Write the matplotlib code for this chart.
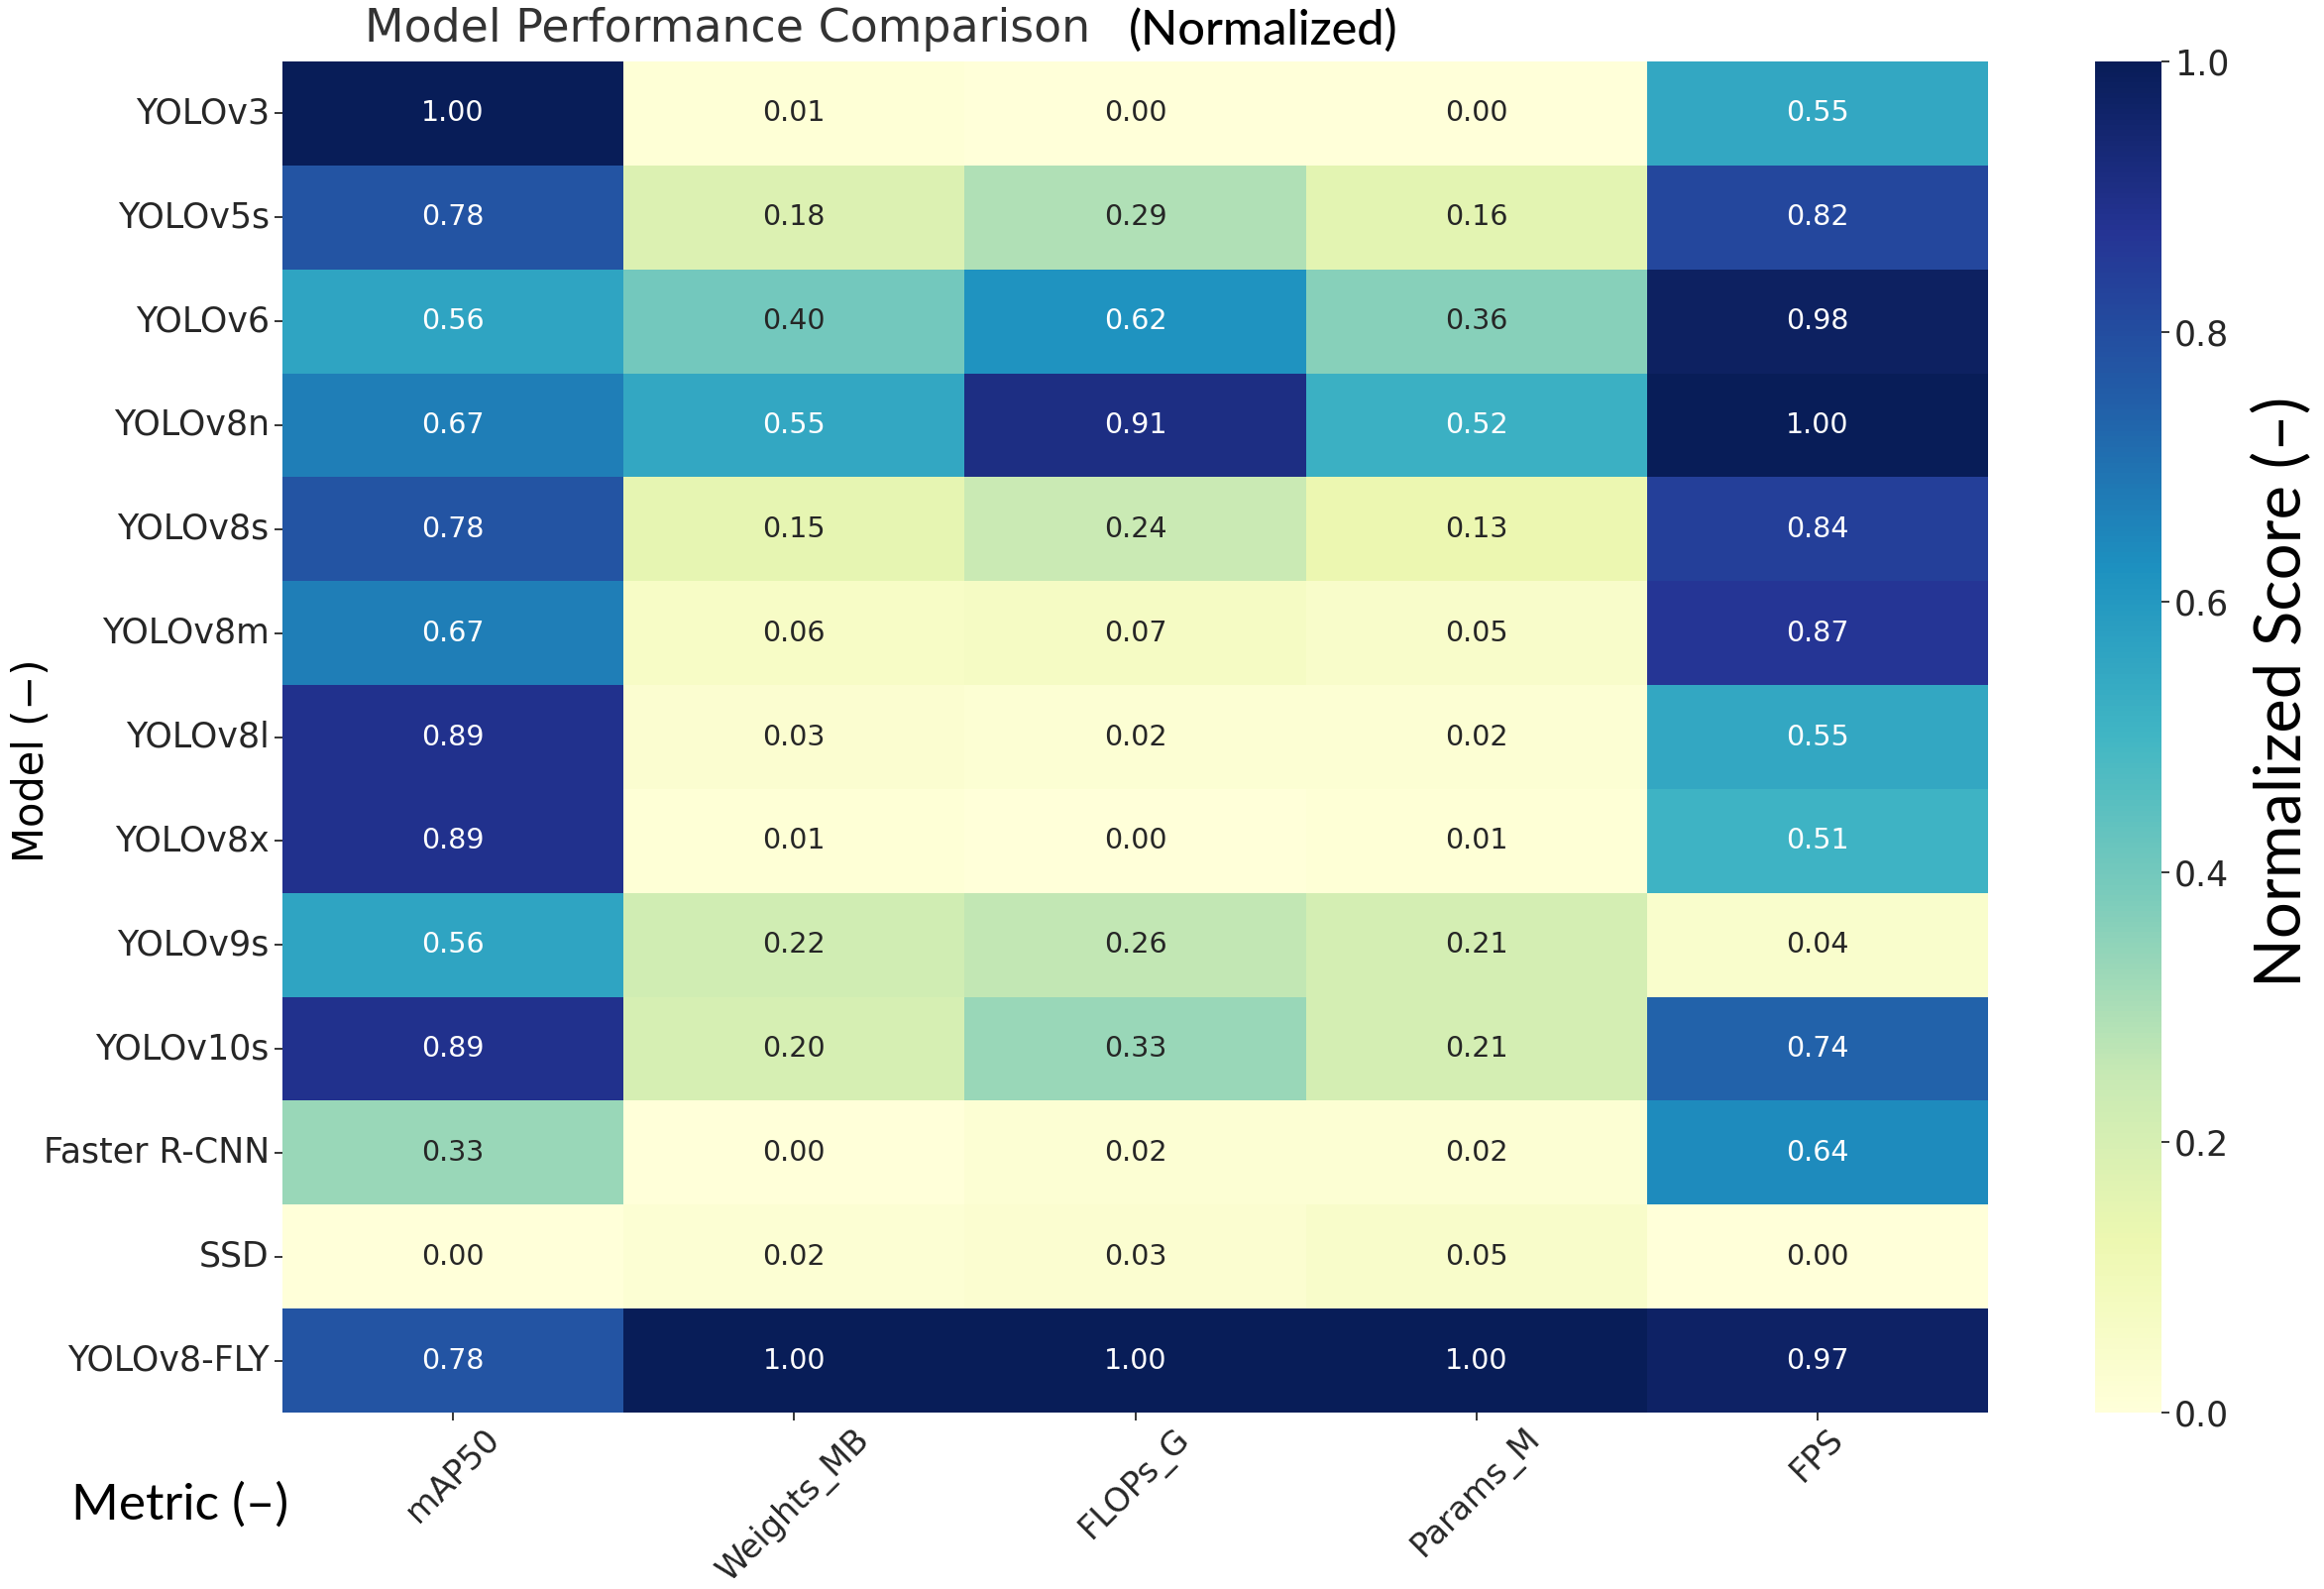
import numpy as np
import pandas as pd
import matplotlib
matplotlib.use("Agg")
import matplotlib.pyplot as plt
import seaborn as sns

models = ["YOLOv3", "YOLOv5s", "YOLOv6", "YOLOv8n", "YOLOv8s", "YOLOv8m", "YOLOv8l",
          "YOLOv8x", "YOLOv9s", "YOLOv10s", "Faster R-CNN", "SSD", "YOLOv8-FLY"]
metrics = ["mAP50", "Weights_MB", "FLOPs_G", "Params_M", "FPS"]

map50 = [1.00, 0.78, 0.56, 0.67, 0.78, 0.67, 0.89, 0.89, 0.56, 0.89, 0.33, 0.00, 0.78]
weights_mb = [0.01, 0.18, 0.40, 0.55, 0.15, 0.06, 0.03, 0.01, 0.22, 0.20, 0.00, 0.02, 1.00]
flops_g = [0.00, 0.29, 0.62, 0.91, 0.24, 0.07, 0.02, 0.00, 0.26, 0.33, 0.02, 0.03, 1.00]
params_m = [0.00, 0.16, 0.36, 0.52, 0.13, 0.05, 0.02, 0.01, 0.21, 0.21, 0.02, 0.05, 1.00]
fps = [0.55, 0.82, 0.98, 1.00, 0.84, 0.87, 0.55, 0.51, 0.04, 0.74, 0.64, 0.00, 0.97]

cbar_ticks = [0.0, 0.2, 0.4, 0.6, 0.8, 1.0]

df = pd.DataFrame({"mAP50": map50, "Weights_MB": weights_mb, "FLOPs_G": flops_g,
                   "Params_M": params_m, "FPS": fps}, index=models)[metrics]

W, H = 2345, 1603
fig = plt.figure(figsize=(W / 100, H / 100), dpi=100)
plt.rcParams['font.family'] = ['DejaVu Sans']

ax = fig.add_axes([285 / W, 1 - 1425 / H, (2006 - 285) / W, (1425 - 62) / H])
cax = fig.add_axes([2114 / W, 1 - 1425 / H, 67 / W, (1425 - 62) / H])

sns.heatmap(df, ax=ax, cbar_ax=cax, cmap="YlGnBu", vmin=0, vmax=1,
            annot=True, fmt=".2f", annot_kws={"size": 20.5})

ax.set_xlabel("")
ax.set_ylabel("")
ax.tick_params(axis='y', labelsize=25, colors='#262626', length=6, width=1.3)
ax.tick_params(axis='x', labelsize=24, colors='#262626', length=6, width=1.3, pad=1)
ax.set_xticklabels(metrics, rotation=45, ha='center', color='#262626')
ax.set_yticklabels(models, rotation=0, color='#262626')

cax.set_yticks(cbar_ticks)
cax.set_yticklabels([f"{t:.1f}" for t in cbar_ticks])
cax.tick_params(labelsize=25, colors='#262626', length=6, width=1.3)
for sp in cax.spines.values():
    sp.set_visible(False)

# title (two parts)
fig.text(368 / W, 1 - 30 / H, "Model Performance Comparison", fontsize=33,
         color='#333333', ha='left', va='center')
fig.text(1275 / W, 1 - 30 / H, "(Normalized)", fontsize=35, family=['Lato', 'DejaVu Sans'],
         weight='medium', color='black', ha='center', va='center')

fig.text(32 / W, 1 - 767 / H, "Model (\u2212)", fontsize=30, rotation=90,
         color='black', ha='center', va='center')
fig.text(182 / W, 1 - 1518 / H, "Metric (\u2013)", fontsize=37, family=['Lato', 'DejaVu Sans'],
         color='black', ha='center', va='center')
fig.text(2302 / W, 1 - 698 / H, "Normalized Score (\u2013)", fontsize=47,
         family=['Lato', 'DejaVu Sans'], rotation=90, color='black', ha='center', va='center')

fig.savefig("out.png", dpi=100)
